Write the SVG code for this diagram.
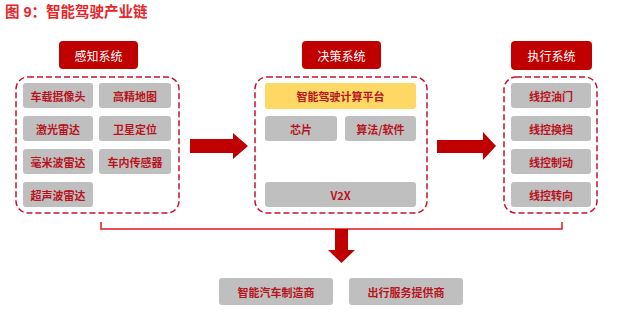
<svg xmlns="http://www.w3.org/2000/svg" width="640" height="317" viewBox="0 0 640 317">
<style>
.title{font-family:"Liberation Sans","Noto Sans CJK SC",sans-serif;font-size:14.5px;font-weight:bold;fill:#e8262a}
.hdr{fill:#c00000}
.hdrt{font-family:"Noto Sans CJK SC",sans-serif;font-size:12px;fill:#fff;text-anchor:middle;dominant-baseline:central}
.grp{fill:none;stroke:#c8102e;stroke-width:1.5;stroke-dasharray:6 3}
.box{fill:#bfbfbf}
.ybox{fill:#fdd865}
.bt{font-family:"Noto Sans CJK SC",sans-serif;font-size:11px;font-weight:bold;fill:#b8141e;text-anchor:middle;dominant-baseline:central}
.arr{fill:#c00000}
.line{fill:none;stroke:#e3161b;stroke-width:1.5}
</style>
<text class="title" x="5" y="17">图 9：智能驾驶产业链</text>

<g id="perception">
<rect class="hdr" x="59" y="41" width="79" height="28" rx="4"/>
<text class="hdrt" x="98.5" y="55">感知系统</text>
<rect class="grp" x="16" y="77" width="163" height="136" rx="12"/>
<rect class="box" x="23" y="83" width="70" height="25" rx="3"/><text class="bt" x="58" y="95.5">车载摄像头</text>
<rect class="box" x="99" y="83" width="72" height="25" rx="3"/><text class="bt" x="135" y="95.5">高精地图</text>
<rect class="box" x="23" y="116" width="70" height="25" rx="3"/><text class="bt" x="58" y="128.5">激光雷达</text>
<rect class="box" x="99" y="116" width="72" height="25" rx="3"/><text class="bt" x="135" y="128.5">卫星定位</text>
<rect class="box" x="23" y="149" width="70" height="25" rx="3"/><text class="bt" x="58" y="161.5">毫米波雷达</text>
<rect class="box" x="99" y="149" width="72" height="25" rx="3"/><text class="bt" x="135" y="161.5">车内传感器</text>
<rect class="box" x="23" y="182" width="70" height="25" rx="3"/><text class="bt" x="58" y="194.5">超声波雷达</text>
</g>

<g id="decision">
<rect class="hdr" x="302" y="41" width="79" height="28" rx="4"/>
<text class="hdrt" x="341.5" y="55">决策系统</text>
<rect class="grp" x="255" y="77" width="172" height="136" rx="12"/>
<rect class="ybox" x="265" y="83" width="151" height="26" rx="3"/><text class="bt" x="340.5" y="96">智能驾驶计算平台</text>
<rect class="box" x="265" y="116" width="72" height="25" rx="3"/><text class="bt" x="301" y="128.5">芯片</text>
<rect class="box" x="345" y="116" width="71" height="25" rx="3"/><text class="bt" x="380.5" y="128.5">算法/软件</text>
<rect class="box" x="265" y="182" width="151" height="25" rx="3"/><text class="bt" x="340.5" y="194.5">V2X</text>
</g>

<g id="execution">
<rect class="hdr" x="511" y="41" width="81" height="29" rx="4"/>
<text class="hdrt" x="551.5" y="55.5">执行系统</text>
<rect class="grp" x="504" y="77" width="93" height="136" rx="12"/>
<rect class="box" x="511" y="83" width="80" height="25" rx="3"/><text class="bt" x="551" y="95.5">线控油门</text>
<rect class="box" x="511" y="116" width="80" height="25" rx="3"/><text class="bt" x="551" y="128.5">线控换挡</text>
<rect class="box" x="511" y="149" width="80" height="25" rx="3"/><text class="bt" x="551" y="161.5">线控制动</text>
<rect class="box" x="511" y="182" width="80" height="25" rx="3"/><text class="bt" x="551" y="194.5">线控转向</text>
</g>

<g id="outputs">
<rect class="box" x="219" y="278" width="114" height="27" rx="3"/><text class="bt" x="276" y="291.5">智能汽车制造商</text>
<rect class="box" x="349" y="278" width="114" height="27" rx="3"/><text class="bt" x="406" y="291.5">出行服务提供商</text>
</g>

<g id="connectors">
<polygon class="arr" points="190,139 233,139 233,133 248,146 233,159 233,153 190,153"/>
<polygon class="arr" points="437,140 483,140 483,132 496,146 483,160 483,153 437,153"/>
<path class="line" d="M101,222 V229 H562 V222"/>
<polygon class="arr" points="335,229 348,229 348,250 355,250 341.5,263 328,250 335,250"/>
</g>
</svg>
